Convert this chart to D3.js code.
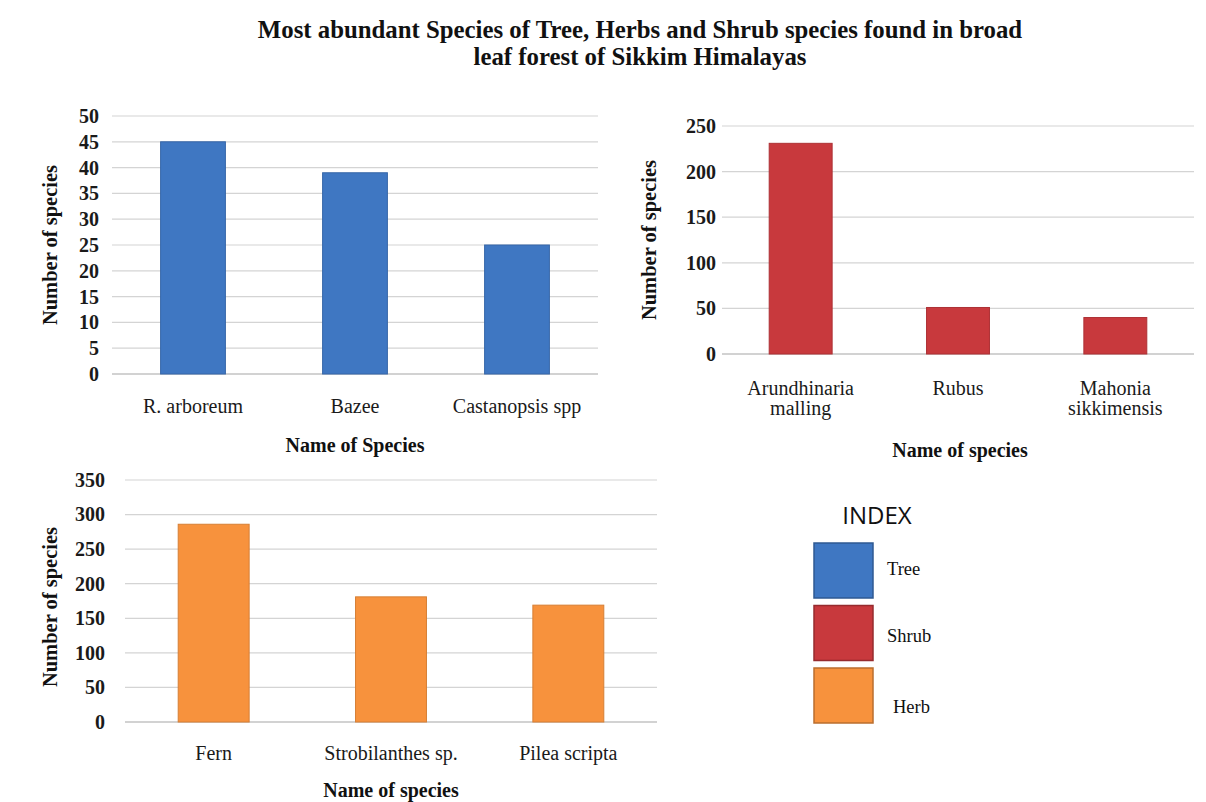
<!DOCTYPE html>
<html>
<head>
<meta charset="utf-8">
<script src="https://cdn.jsdelivr.net/npm/d3@7"></script>
<style>
  html, body { margin: 0; padding: 0; background: #fff; }
  svg { display: block; }
</style>
</head>
<body>
<svg id="chart" width="1206" height="802"></svg>
<script>
// Tree species
const treeNames = ["R. arboreum", "Bazee", "Castanopsis spp"];
const treeValues = [45, 39, 25];
const treeTicks = [0, 5, 10, 15, 20, 25, 30, 35, 40, 45, 50];

// Shrub species
const shrubNames = ["Arundhinaria malling", "Rubus", "Mahonia sikkimensis"];
const shrubValues = [231, 51, 40];
const shrubTicks = [0, 50, 100, 150, 200, 250];

// Herb species
const herbNames = ["Fern", "Strobilanthes sp.", "Pilea scripta"];
const herbValues = [286, 181, 169];
const herbTicks = [0, 50, 100, 150, 200, 250, 300, 350];

// Legend
const legendLabels = ["Tree", "Shrub", "Herb"];
const legendColors = ["#3f77c2", "#c8393d", "#f7923d"];

const svg = d3.select("#chart");
const serif = "'Liberation Serif', 'Times New Roman', serif";

// Title
const titleLines = [
  "Most abundant Species of  Tree, Herbs and Shrub species found in broad",
  "leaf forest  of Sikkim Himalayas"
];
svg.selectAll("text.title").data(titleLines).join("text")
  .attr("class", "title")
  .attr("x", 640).attr("y", (d, i) => 38 + i * 27)
  .attr("text-anchor", "middle")
  .attr("font-family", serif).attr("font-weight", "bold").attr("font-size", 24.8)
  .attr("fill", "#111")
  .text(d => d);

function barPanel(cfg) {
  const g = svg.append("g");
  const x = d3.scaleBand().domain(cfg.names).range([cfg.x0, cfg.x1]).paddingInner(cfg.pad).paddingOuter(cfg.pad / 2);
  const y = d3.scaleLinear().domain([0, d3.max(cfg.ticks)]).range([cfg.y0, cfg.y1]);

  // horizontal gridlines
  g.selectAll("line.grid").data(cfg.ticks).join("line")
    .attr("x1", cfg.x0).attr("x2", cfg.x1)
    .attr("y1", d => y(d)).attr("y2", d => y(d))
    .attr("stroke", d => d === 0 ? "#a6a6a6" : "#d4d4d4")
    .attr("stroke-width", 1.2);

  // y axis tick labels
  const yAxis = d3.axisLeft(y).tickValues(cfg.ticks).tickSize(0).tickPadding(cfg.tickPad);
  const ya = g.append("g").attr("transform", `translate(${cfg.x0},0)`).call(yAxis);
  ya.select(".domain").remove();
  ya.selectAll("text")
    .attr("font-family", serif).attr("font-weight", "bold").attr("font-size", 20)
    .attr("fill", "#1a1a1a");

  // bars
  g.selectAll("rect.bar").data(cfg.values).join("rect")
    .attr("x", (d, i) => x(cfg.names[i]))
    .attr("width", x.bandwidth())
    .attr("y", d => y(d))
    .attr("height", d => y(0) - y(d))
    .attr("fill", cfg.color)
    .attr("stroke", d3.color(cfg.color).darker(0.4))
    .attr("stroke-width", 1);

  // category labels (two lines when wrapped)
  const xAxis = d3.axisBottom(x).tickSize(0).tickPadding(cfg.catPad);
  const xa = g.append("g").attr("transform", `translate(0,${cfg.y0})`).call(xAxis);
  xa.select(".domain").remove();
  xa.selectAll("text")
    .attr("font-family", serif).attr("font-size", 20).attr("fill", "#1a1a1a")
    .each(function(d) {
      const lines = cfg.wrap ? d.split(" ") : [d];
      const t = d3.select(this).text(null);
      lines.forEach((ln, k) => {
        t.append("tspan").attr("x", 0).attr("dy", k === 0 ? "0.71em" : "1em").text(ln);
      });
    });

  // axis titles
  g.append("text")
    .attr("x", (cfg.x0 + cfg.x1) / 2 + cfg.xtOff).attr("y", cfg.xtY)
    .attr("text-anchor", "middle")
    .attr("font-family", serif).attr("font-weight", "bold").attr("font-size", 20)
    .attr("fill", "#111")
    .text(cfg.xTitle);
  g.append("text")
    .attr("transform", `translate(${cfg.ytX},${(cfg.y0 + cfg.y1) / 2 + cfg.ytOff}) rotate(-90)`)
    .attr("text-anchor", "middle")
    .attr("font-family", serif).attr("font-weight", "bold").attr("font-size", 20.5)
    .attr("fill", "#111")
    .text("Number of species");
}

barPanel({
  names: treeNames, values: treeValues, ticks: treeTicks, color: legendColors[0],
  x0: 112, x1: 598, y0: 374, y1: 116, pad: 0.6, tickPad: 13, catPad: 25,
  wrap: false, xTitle: "Name of Species", xtY: 452, xtOff: 0, ytX: 57, ytOff: 0
});

barPanel({
  names: shrubNames, values: shrubValues, ticks: shrubTicks, color: legendColors[1],
  x0: 722, x1: 1194, y0: 354, y1: 126, pad: 0.6, tickPad: 6, catPad: 27,
  wrap: true, xTitle: "Name of species", xtY: 457, xtOff: 2, ytX: 656, ytOff: 0
});

barPanel({
  names: herbNames, values: herbValues, ticks: herbTicks, color: legendColors[2],
  x0: 125, x1: 657, y0: 722, y1: 480, pad: 0.6, tickPad: 20, catPad: 24,
  wrap: false, xTitle: "Name of species", xtY: 797, xtOff: 0, ytX: 57, ytOff: 6
});

// Legend
const lg = svg.append("g");
lg.append("text")
  .attr("x", 877).attr("y", 524)
  .attr("text-anchor", "middle")
  .attr("font-family", "'Open Sans', 'Liberation Sans', sans-serif").attr("font-size", 24)
  .attr("fill", "#111")
  .text("INDEX");
const ly = d3.scaleBand().domain(legendLabels).range([543, 723]).paddingInner(0.12);
lg.selectAll("rect").data(legendLabels).join("rect")
  .attr("x", 814).attr("width", 59)
  .attr("y", d => ly(d)).attr("height", ly.bandwidth())
  .attr("fill", (d, i) => legendColors[i])
  .attr("stroke", (d, i) => d3.color(legendColors[i]).darker(0.8))
  .attr("stroke-width", 1.5);
lg.selectAll("text.lab").data(legendLabels).join("text")
  .attr("class", "lab")
  .attr("x", (d, i) => i === 2 ? 893 : 887)
  .attr("y", (d, i) => ly(d) + ly.bandwidth() / 2 + [4, 9, 17][i])
  .attr("font-family", serif).attr("font-size", 18.5)
  .attr("fill", "#111")
  .text(d => d);
</script>
</body>
</html>
